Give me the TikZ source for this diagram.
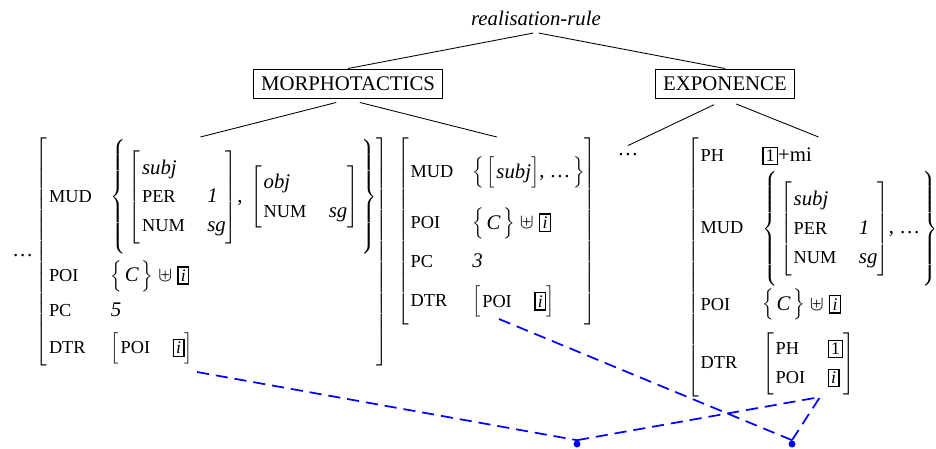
\documentclass[tikz,border=0pt,12pt]{standalone}
\usepackage{fontspec}
\setmainfont{Liberation Serif}
\usepackage{graphicx}
\usepackage{tikz}

\newcommand{\feat}[1]{\scalebox{0.88}{#1}}
\newcommand{\boxtag}[1]{{\setlength{\fboxsep}{1.2pt}\setlength{\fboxrule}{0.8pt}\fbox{\scalebox{0.85}{#1}}}}
\newcommand{\avm}[2][13pt]{$\left[\begin{tabular}{@{\kern1pt}l@{\hspace{#1}}l@{}}#2\end{tabular}\right]$}
\newcommand{\avmone}[1]{$\left[\begin{tabular}{@{\kern1pt}l@{}}#1\end{tabular}\right]$}
\newcommand{\setof}[2][0pt]{$\left\{\begin{tabular}{@{\kern1.5pt}l@{\kern1.5pt}}\noalign{\vskip#1}#2\\\noalign{\vskip#1}\end{tabular}\right\}$}
\newcommand{\rowgap}[1]{\\\noalign{\vskip#1}}
\renewcommand{\arraystretch}{1.15}
\delimiterfactor=1001 \delimitershortfall=-1pt

\begin{document}
\begin{tikzpicture}[x=0.577pt,y=-0.577pt,
  box/.style={draw,line width=.8pt,inner sep=4.5pt},
  avmnode/.style={inner sep=0pt,anchor=north west},
  branch/.style={line width=.5pt},
  link/.style={blue,line width=1pt,dash pattern=on 7pt off 4pt},
  dot/.style={circle,fill=blue,inner sep=0pt,minimum size=4pt}]
 \useasboundingbox (0,0) rectangle (936,448);
 % tree top
 \node[anchor=base] (rule) at (536,25) {\textit{realisation-rule}};
 \node[box] (morph) at (348,84) {MORPHOTACTICS};
 \node[box] (expo) at (725,84) {EXPONENCE};
 % daughters
 \node[avmnode] (lhs) at (12,137) {\dots\kern1.5pt\avm[11pt]{%
   \feat{MUD} & \setof[3pt]{\avm{\textit{subj}\\ \feat{PER} & \textit{1}\\ \feat{NUM} & \textit{sg}},\ \kern1.5pt\avm{\textit{obj}\\ \feat{NUM} & \textit{sg}}}\rowgap{3.6pt}
   \feat{POI} & \setof{\textit{C}} $\uplus$ \boxtag{\textit{i}}\rowgap{2.4pt}
   \feat{PC} & \textit{5}\rowgap{4.3pt}
   \feat{DTR} & \avm{\feat{POI} & \boxtag{\textit{i}}}}};
 \node[avmnode] (mid) at (397,137) {\avm[11pt]{\noalign{\vskip8pt}%
   \feat{MUD} & \setof[-1.5pt]{\avmone{\textit{subj}}, \dots}\rowgap{11.2pt}
   \feat{POI} & \setof{\textit{C}} $\uplus$ \boxtag{\textit{i}}\rowgap{4.9pt}
   \feat{PC} & \textit{3}\rowgap{5.5pt}
   \feat{DTR} & \avm{\feat{POI} & \boxtag{\textit{i}}}\rowgap{1pt}}};
 \node[anchor=base] (dots) at (628,155) {\dots};
 \node[avmnode] (rhs) at (687,137) {\avm[11pt]{\noalign{\vskip1pt}%
   \feat{PH} & \boxtag{1}+mi\rowgap{0.6pt}
   \feat{MUD} & \setof[3pt]{\avm{\textit{subj}\\ \feat{PER} & \textit{1}\\ \feat{NUM} & \textit{sg}}, \dots}\rowgap{1.9pt}
   \feat{POI} & \setof{\textit{C}} $\uplus$ \boxtag{\textit{i}}\rowgap{6.9pt}
   \feat{DTR} & \avm{\feat{PH} & \boxtag{1}\\ \feat{POI} & \boxtag{\textit{i}}}}};
 % branches
 \draw[branch,shorten <=1.5pt] (rule.south) -- (morph.north);
 \draw[branch,shorten <=1.5pt] (rule.south) -- (expo.north);
 \draw[branch,shorten <=7pt] (morph.south) -- (lhs.north);
 \draw[branch,shorten <=7pt] (morph.south) -- (mid.north);
 \draw[branch,shorten <=7pt] (expo.south) -- (dots.north);
 \draw[branch,shorten <=7pt] (expo.south) -- (rhs.north);
 % structure sharing links
 \coordinate (dtrA) at (197,372);
 \coordinate (dtrB) at (499,319);
 \coordinate (dtrC) at (820,397);
 \node[dot] (d1) at (577,444) {};
 \node[dot] (d2) at (792,444) {};
 \draw[link] (dtrA) -- (d1.north);
 \draw[link] (d1.north) -- (dtrC);
 \draw[link] (dtrB) -- (d2.north);
 \draw[link] (d2.north) -- (dtrC);
\end{tikzpicture}
\end{document}
